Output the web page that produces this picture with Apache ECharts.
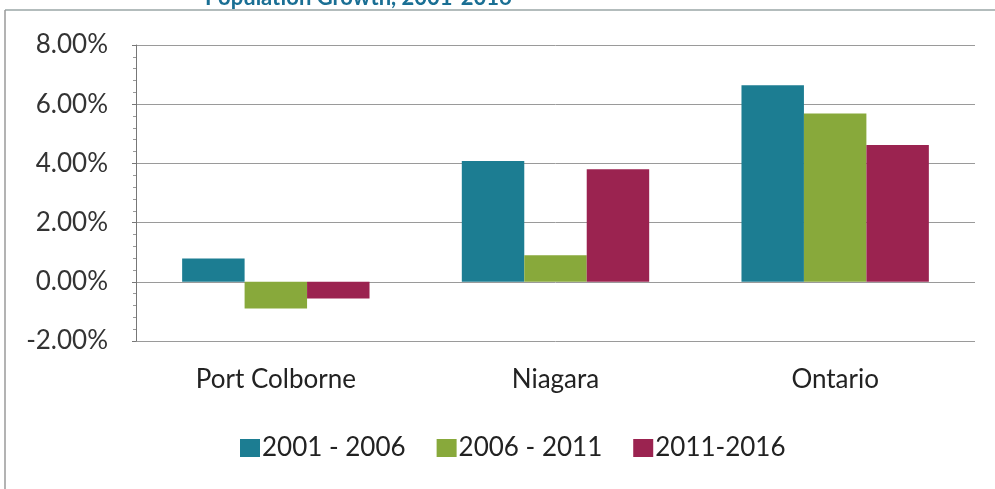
<!DOCTYPE html>
<html>
<head>
<meta charset="utf-8">
<script src="https://cdn.jsdelivr.net/npm/echarts@6/dist/echarts.min.js"></script>
<style>
  html, body { margin: 0; padding: 0; background: #fff; }
  #chart { width: 995px; height: 489px; }
</style>
</head>
<body>
<div id="chart"></div>
<script>
const categories = ['Port Colborne', 'Niagara', 'Ontario']
const seriesNames = ['2001 - 2006', '2006 - 2011', '2011-2016']
const growth2001 = [0.79, 4.08, 6.64]
const growth2006 = [-0.90, 0.90, 5.69]
const growth2011 = [-0.56, 3.80, 4.62]
const colors = ['#1c7d92', '#88a93b', '#9b2350']

const chart = echarts.init(document.getElementById('chart'), null, { renderer: 'canvas' })

const font = 'Lato, "Open Sans", sans-serif'

chart.setOption({
  backgroundColor: '#fff',
  animation: false,
  title: {
    text: 'Population Growth, 2001-2016',
    left: 200, top: -18,
    textStyle: { color: '#1a6f94', fontSize: 22, fontWeight: 'bold', fontFamily: font },
  },
  graphic: [
    { type: 'line', shape: { x1: 5, y1: 10, x2: 995, y2: 10 }, style: { stroke: '#9aa6a6', lineWidth: 1.5 } },
    { type: 'line', shape: { x1: 5, y1: 10, x2: 5, y2: 489 }, style: { stroke: '#9a9a9a', lineWidth: 1.5 } },
  ],
  legend: {
    data: seriesNames,
    left: 235, top: 430,
    itemWidth: 20, itemHeight: 18, itemGap: 31,
    icon: 'rect',
    textStyle: { color: '#222', fontSize: 26, fontFamily: font, padding: [0, 0, 0, -3] },
  },
  grid: { left: 136, right: 20, top: 45, bottom: 148 },
  xAxis: {
    type: 'category',
    data: categories,
    axisLine: { show: false },
    axisTick: { show: false },
    axisLabel: { color: '#222', fontSize: 26, fontFamily: font, margin: 26 },
  },
  yAxis: {
    type: 'value',
    min: -2, max: 8, interval: 2,
    axisLine: { show: true, lineStyle: { color: '#777', width: 1 } },
    axisTick: { show: true, length: 4, inside: false, lineStyle: { color: '#777' } },
    minorTick: { show: true, splitNumber: 5, length: 3, lineStyle: { color: '#999' } },
    axisLabel: {
      color: '#333', fontSize: 26, fontFamily: font, margin: 28,
      formatter: v => v.toFixed(2) + '%',
    },
    splitLine: { lineStyle: { color: '#9a9a9a', width: 1 } },
  },
  series: [growth2001, growth2006, growth2011].map((d, i) => ({
    name: seriesNames[i],
    type: 'bar',
    data: d,
    barGap: '0%',
    barCategoryGap: '33%',
    itemStyle: { color: colors[i] },
  })),
})
</script>
</body>
</html>
